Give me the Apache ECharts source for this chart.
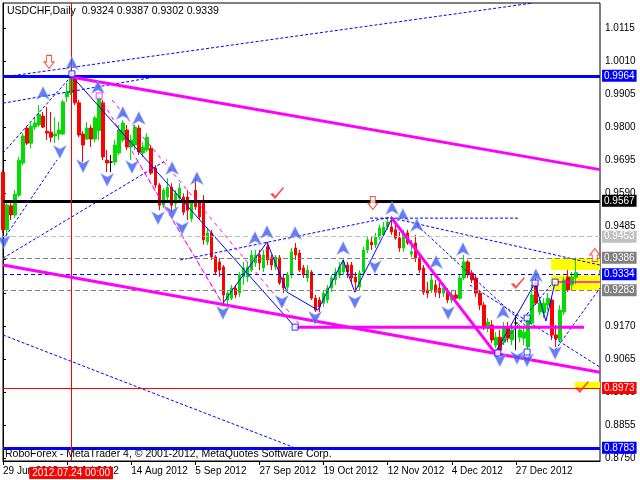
<!DOCTYPE html>
<html><head><meta charset="utf-8">
<script src="https://cdn.jsdelivr.net/npm/echarts@6/dist/echarts.min.js"></script>
<style>html,body{margin:0;padding:0;background:#fff}#c{width:640px;height:480px}</style>
</head><body><div id="c"></div>
<script>
// ---- data (USDCHF daily) ----
const opens = [0.9658,0.9475,0.9551,0.9522,0.9585,0.9687,0.9798,0.9750,0.9801,0.9808,
0.9836,0.9788,0.9785,0.9773,0.9779,0.9779,0.9897,0.9909,0.9957,0.9878,
0.9779,0.9763,0.9798,0.9763,0.9790,0.9878,0.9696,0.9690,0.9690,0.9719,
0.9760,0.9792,0.9738,0.9744,0.9798,0.9719,0.9728,0.9734,0.9671,0.9617,
0.9553,0.9579,0.9610,0.9559,0.9575,0.9579,0.9579,0.9510,0.9600,0.9564,
0.9569,0.9436,0.9465,0.9389,0.9373,0.9357,0.9252,0.9258,0.9290,0.9274,
0.9325,0.9325,0.9347,0.9370,0.9395,0.9354,0.9421,0.9386,0.9357,0.9386,
0.9322,0.9293,0.9332,0.9417,0.9401,0.9354,0.9322,0.9341,0.9258,0.9252,
0.9242,0.9252,0.9290,0.9316,0.9332,0.9341,0.9363,0.9363,0.9325,0.9293,
0.9341,0.9411,0.9436,0.9427,0.9452,0.9459,0.9484,0.9484,0.9475,0.9449,
0.9417,0.9465,0.9398,0.9433,0.9386,0.9354,0.9284,0.9284,0.9300,0.9290,
0.9274,0.9277,0.9252,0.9268,0.9258,0.9322,0.9373,0.9338,0.9322,0.9274,
0.9236,0.9163,0.9173,0.9109,0.9134,0.9118,0.9163,0.9125,0.9179,0.9134,
0.9131,0.9103,0.9179,0.9306,0.9214,0.9211,0.9236,0.9252,0.9141,0.9125,
0.9214,0.9325,0.9300,0.9324];
const closes = [0.9475,0.9554,0.9522,0.9588,0.9696,0.9773,0.9750,0.9804,0.9814,0.9842,
0.9801,0.9782,0.9769,0.9779,0.9792,0.9881,0.9912,0.9960,0.9878,0.9776,
0.9744,0.9798,0.9763,0.9830,0.9897,0.9706,0.9687,0.9690,0.9744,0.9792,
0.9814,0.9738,0.9760,0.9801,0.9722,0.9738,0.9769,0.9655,0.9617,0.9553,
0.9601,0.9610,0.9553,0.9591,0.9607,0.9531,0.9537,0.9564,0.9548,0.9516,
0.9443,0.9465,0.9389,0.9341,0.9347,0.9268,0.9274,0.9290,0.9268,0.9332,
0.9354,0.9357,0.9395,0.9395,0.9370,0.9395,0.9379,0.9363,0.9389,0.9306,
0.9290,0.9332,0.9405,0.9395,0.9347,0.9332,0.9347,0.9258,0.9220,0.9230,
0.9274,0.9290,0.9322,0.9341,0.9357,0.9373,0.9341,0.9322,0.9309,0.9338,
0.9411,0.9443,0.9427,0.9452,0.9481,0.9484,0.9500,0.9468,0.9449,0.9417,
0.9465,0.9433,0.9405,0.9386,0.9347,0.9277,0.9274,0.9316,0.9277,0.9274,
0.9290,0.9252,0.9268,0.9258,0.9322,0.9373,0.9332,0.9316,0.9274,0.9236,
0.9166,0.9182,0.9125,0.9134,0.9093,0.9166,0.9131,0.9157,0.9179,0.9157,
0.9150,0.9195,0.9268,0.9242,0.9242,0.9242,0.9258,0.9141,0.9131,0.9220,
0.9316,0.9284,0.9325,0.9339];
const lows = [0.9465,0.9459,0.9506,0.9513,0.9579,0.9680,0.9744,0.9734,0.9792,0.9801,
0.9798,0.9760,0.9753,0.9750,0.9760,0.9776,0.9881,0.9903,0.9871,0.9769,
0.9690,0.9760,0.9738,0.9753,0.9760,0.9696,0.9658,0.9658,0.9680,0.9712,
0.9753,0.9728,0.9696,0.9728,0.9712,0.9706,0.9722,0.9649,0.9607,0.9537,
0.9544,0.9569,0.9531,0.9544,0.9569,0.9521,0.9506,0.9500,0.9538,0.9506,
0.9428,0.9427,0.9379,0.9332,0.9325,0.9242,0.9236,0.9252,0.9258,0.9262,
0.9300,0.9309,0.9341,0.9357,0.9347,0.9341,0.9363,0.9347,0.9347,0.9300,
0.9274,0.9284,0.9322,0.9379,0.9341,0.9322,0.9309,0.9252,0.9214,0.9214,
0.9230,0.9242,0.9277,0.9300,0.9322,0.9332,0.9322,0.9309,0.9277,0.9284,
0.9332,0.9401,0.9411,0.9417,0.9443,0.9452,0.9475,0.9459,0.9443,0.9405,
0.9405,0.9427,0.9389,0.9373,0.9338,0.9268,0.9258,0.9274,0.9262,0.9258,
0.9262,0.9242,0.9242,0.9246,0.9252,0.9316,0.9322,0.9306,0.9262,0.9220,
0.9157,0.9150,0.9115,0.9099,0.9077,0.9109,0.9118,0.9109,0.9093,0.9118,
0.9109,0.9093,0.9173,0.9236,0.9204,0.9195,0.9220,0.9125,0.9103,0.9118,
0.9204,0.9277,0.9284,0.9302];
const highs = [0.9664,0.9560,0.9560,0.9601,0.9706,0.9782,0.9804,0.9814,0.9833,0.9871,
0.9849,0.9865,0.9849,0.9833,0.9817,0.9887,0.9941,0.9973,0.9963,0.9887,
0.9788,0.9817,0.9808,0.9836,0.9903,0.9887,0.9728,0.9712,0.9760,0.9808,
0.9823,0.9808,0.9776,0.9808,0.9808,0.9753,0.9782,0.9744,0.9680,0.9623,
0.9607,0.9639,0.9623,0.9601,0.9623,0.9591,0.9601,0.9569,0.9639,0.9569,
0.9585,0.9481,0.9475,0.9395,0.9386,0.9363,0.9284,0.9300,0.9300,0.9341,
0.9373,0.9373,0.9411,0.9411,0.9411,0.9411,0.9436,0.9395,0.9395,0.9395,
0.9332,0.9341,0.9417,0.9433,0.9411,0.9363,0.9363,0.9347,0.9268,0.9262,
0.9284,0.9300,0.9332,0.9354,0.9373,0.9386,0.9373,0.9373,0.9341,0.9347,
0.9421,0.9452,0.9452,0.9465,0.9491,0.9500,0.9513,0.9513,0.9491,0.9468,
0.9475,0.9475,0.9443,0.9459,0.9395,0.9363,0.9309,0.9332,0.9316,0.9306,
0.9306,0.9290,0.9284,0.9284,0.9332,0.9395,0.9379,0.9347,0.9332,0.9284,
0.9246,0.9195,0.9188,0.9150,0.9157,0.9182,0.9182,0.9173,0.9204,0.9173,
0.9163,0.9204,0.9300,0.9322,0.9258,0.9258,0.9274,0.9262,0.9173,0.9236,
0.9325,0.9347,0.9341,0.9387];

const slotCount = 150;
const tickIndex  = [0,16,32,48,64,80,96,112,128];
const tickLabels = ['29 Jun 2012','23 Jul 2012','14 Aug 2012','5 Sep 2012','27 Sep 2012','19 Oct 2012','12 Nov 2012','4 Dec 2012','27 Dec 2012'];
const yTicks = [0.8750,0.8855,0.8960,0.9065,0.9170,0.9275,0.9380,0.9485,0.9590,0.9695,0.9800,0.9905,1.0010,1.0115];
const levelValues = [0.9964,0.9567,0.9453,0.9386,0.9334,0.9283,0.8973,0.8783];
const markerBar = 17;
const markerBarLabel = '2012.07.24 00:00';

// annotation geometry (bar index, price)
const magentaThick = [
  [[17,0.9960],[149,0.9666]],
  [[0,0.9363],[149,0.9023]],
  [[97,0.9512],[122.8,0.9084]]
];
const magentaLevel = [[73,0.9166],[145,0.9166]];
const magentaThin = [[138,0.9309],[149,0.9309]];
const magentaDashed = [
  [[24,0.9900],[54.7,0.9242]],
  [[27.2,0.9887],[74.1,0.9173]],
  [[33.4,0.9697],[54.7,0.9242]]
];
const blueSolid = [
  [[17.2,0.9963],[72.9,0.9166]],
  [[54.9,0.9242],[65.9,0.9436],[70.9,0.9277],[78.6,0.9220],[84.9,0.9379],[87.8,0.9277],[97.1,0.9512]],
  [[122.8,0.9084],[132.8,0.9306],[135.5,0.9185],[137.8,0.9309]]
];
const blueDashed = [
  [[0,0.9960],[132.3,1.0195]],
  [[0,0.9877],[39.2,0.9963]],
  [[0,0.9719],[18,0.9976]],
  [[0,0.9385],[40.9,0.9697]],
  [[0,0.9442],[13.5,0.9697]],
  [[0,0.9141],[72.4,0.8785]],
  [[44.2,0.9379],[97.1,0.9516]],
  [[91.6,0.9512],[128.5,0.9512]],
  [[97.1,0.9512],[149,0.9363]],
  [[103.3,0.9490],[131.5,0.9157]],
  [[122.8,0.9084],[137.8,0.9316]],
  [[137.8,0.9093],[149,0.9290]],
  [[116.5,0.9300],[149,0.9039]]
];
const upArrows = [[10,0.9909],[17.2,1.0004],[23.7,0.9928],[29.9,0.9846],[33.9,0.9830],[42.2,0.9671],[48.4,0.9639],
  [62.9,0.9449],[65.9,0.9468],[72.9,0.9465],[84.9,0.9417],[97.1,0.9544],[99.8,0.9522],[103.3,0.9490],
  [108.1,0.9373],[114.8,0.9414],[124.8,0.9214],[133,0.9331]];
const downArrows = [[0.2,0.9436],[14.2,0.9722],[20,0.9677],[26,0.9633],[32.2,0.9674],[38.7,0.9512],[42.2,0.9528],
  [44.7,0.9480],[54.9,0.9211],[69.6,0.9246],[77.9,0.9195],[87.8,0.9246],[92.8,0.9357],[111.1,0.9211],
  [124,0.9061],[128.3,0.9068],[130.8,0.9061],[137.8,0.9084]];
const checkMarks = [[68.4,0.9592],[128.5,0.9306],[144.5,0.8976]];
const redDownArrows = [[11.5,1.0008],[92.3,0.9560]];
const redUpArrows = [[147.7,0.9395]];
const blueSquares = [[17.2,0.9970],[72.9,0.9166],[123.5,0.9084],[130.8,0.9087],[130.8,0.9195],[132.8,0.9306],[137.8,0.9309]];
const magentaSquares = [[24,0.9900]];
const yellowZones = [
  [[136.8,0.9385],[149,0.9347]],
  [[136.8,0.9331],[149,0.9284]],
  [[142.7,0.8992],[149,0.8969]]
];

// ---- build ----
const FONT = '"Liberation Sans", Arial, sans-serif';
const cats = Array.from({length: slotCount}, (_, i) => String(i));
const candleData = opens.map((o, i) => [o, closes[i], lows[i], highs[i]]);
const tickSet = new Set(tickIndex);
const labelOf = {}; tickIndex.forEach((t, k) => labelOf[t] = tickLabels[k]);

const levelStyles = [
  {c:'#0000ff', w:3, t:'solid'},
  {c:'#000000', w:3, t:'solid'},
  {c:'#c0c0c0', w:1, t:[5,3]},
  {c:'#808080', w:1, t:[5,3]},
  {c:'#0000ff', w:1, t:[4,3]},
  {c:'#808080', w:1, t:[5,3]},
  {c:'#ff0000', w:1, t:'solid'},
  {c:'#0000ff', w:3, t:'solid'}
];

function lineSeries(pts, color, width, type, z) {
  return {type:'line', xAxisIndex:1, yAxisIndex:0, data:pts, showSymbol:false, symbol:'none',
    silent:true, animation:false, z: z || 4,
    lineStyle:{color:color, width:width, type:type || 'solid'}};
}
function scatterSeries(pts, symbol, size, style, z) {
  return {type:'scatter', xAxisIndex:1, yAxisIndex:0, data:pts, symbol:symbol, symbolSize:size,
    silent:true, animation:false, z: z || 6, itemStyle:style};
}

const series = [];
series.push({type:'scatter', xAxisIndex:1, yAxisIndex:0, data:[], z:1, silent:true,
  markArea:{silent:true, itemStyle:{color:'#ffff00'},
    data: yellowZones.map(z => [{coord:z[0]}, {coord:z[1]}])}});
series.push({type:'candlestick', xAxisIndex:0, yAxisIndex:0, data:candleData, barWidth:3, z:3,
  itemStyle:{color:'#00dd00', color0:'#ff0000', borderColor:'#00dd00', borderColor0:'#ff0000',
    borderColorDoji:'#000000', borderWidth:1}});
blueDashed.forEach(p => series.push(lineSeries(p, '#0000ff', 1, [3,2])));
magentaDashed.forEach(p => series.push(lineSeries(p, '#ff00ff', 1, [4,4])));
blueSolid.forEach(p => series.push(lineSeries(p, '#0000ff', 1, 'solid')));
magentaThick.forEach(p => series.push(lineSeries(p, '#ff00ff', 3, 'solid', 5)));
series.push(lineSeries(magentaLevel, '#ff00ff', 3, 'solid', 5));
series.push(lineSeries(magentaThin, '#ff00ff', 1.5, 'solid', 5));
series.push({type:'scatter', xAxisIndex:1, yAxisIndex:0, data:[], z:7, silent:true, clip:false,
  markLine:{silent:true, symbol:['none','none'], animation:false, precision:4,
    data: levelValues.map((v, k) => ({yAxis:v,
      lineStyle:{color:levelStyles[k].c, width:levelStyles[k].w, type:levelStyles[k].t},
      label:{show:true, position:'end', distance:2, formatter: v.toFixed(4),
        backgroundColor:levelStyles[k].c, color:'#ffffff', fontSize:10, fontFamily:FONT,
        padding:[1,2,0,2], lineHeight:11}})).concat([
      {xAxis:markerBar, lineStyle:{color:'#ff0000', width:1, type:'solid'},
       label:{show:true, position:'start', distance:6, formatter:markerBarLabel,
        backgroundColor:'#ff0000', color:'#ffffff', fontSize:10, fontFamily:FONT, padding:[1,3,0,3], lineHeight:11}}
    ])}});
const upPath = 'path://M6,0 L12,11 L6,8 L0,11 Z';
const downPath = 'path://M0,0 L6,3 L12,0 L6,11 Z';
series.push(scatterSeries(upArrows, upPath, [13,13], {color:'#3f5ff0', borderColor:'#a8b8ff', borderWidth:0.6}));
series.push(scatterSeries(downArrows, downPath, [13,13], {color:'#3f5ff0', borderColor:'#a8b8ff', borderWidth:0.6}));
series.push(scatterSeries(checkMarks, 'path://M0,7 L3,6 L5,9 L13,0 L14,1 L5,12 Z', [14,12], {color:'#ff2020'}));
series.push(scatterSeries(redDownArrows, 'path://M3,0 L9,0 L9,7 L12,7 L6,14 L0,7 L3,7 Z', [10,13], {color:'#ffffff', borderColor:'#ff2000', borderWidth:1}));
series.push(scatterSeries(redUpArrows, 'path://M6,0 L12,7 L9,7 L9,14 L3,14 L3,7 L0,7 Z', [10,13], {color:'#ffffff', borderColor:'#ff2000', borderWidth:1}));
series.push(scatterSeries(blueSquares, 'rect', 6, {color:'#ffffff', borderColor:'#0000ff', borderWidth:1}));
series.push(scatterSeries(magentaSquares, 'rect', 6, {color:'#ffffff', borderColor:'#ff00ff', borderWidth:1}));

const chart = echarts.init(document.getElementById('c'), null, {renderer:'canvas'});
chart.setOption({
  animation:false,
  backgroundColor:'#ffffff',
  textStyle:{fontFamily:FONT},
  grid:{left:3, top:3, right:40, bottom:19, show:true, borderColor:'#000', borderWidth:1, backgroundColor:'#fff'},
  xAxis:[
    {type:'category', data:cats, boundaryGap:false,
     axisLine:{show:true, lineStyle:{color:'#000', width:1}},
     axisTick:{show:true, length:4, interval:(i) => tickSet.has(i), lineStyle:{color:'#000'}},
     axisLabel:{interval:(i) => tickSet.has(i), formatter:(v) => labelOf[Number(v)] || '',
       align:'left', fontSize:10, color:'#000', margin:5, fontFamily:FONT},
     splitLine:{show:false}},
    {type:'value', min:0, max:slotCount - 1, show:false}
  ],
  yAxis:[{type:'value', position:'right', min:0.8741, max:1.0195, scale:true,
    axisLine:{show:true, lineStyle:{color:'#000'}},
    axisTick:{show:true, length:3, customValues:yTicks, lineStyle:{color:'#000'}},
    axisLabel:{customValues:yTicks, formatter:(v) => v.toFixed(4), fontSize:10, color:'#000', margin:5, fontFamily:FONT},
    splitLine:{show:false}}],
  graphic:[
    {type:'text', left:7, top:6, z:100,
     style:{text:'USDCHF,Daily  ' + [opens[opens.length-1], highs[highs.length-1], lows[lows.length-1], closes[closes.length-1]].map(v => v.toFixed(4)).join(' '),
       font:'10.5px ' + FONT, fill:'#000'}},
    {type:'text', left:5, top:449, z:100,
     style:{text:'RoboForex - MetaTrader 4, \u00a9 2001-2012, MetaQuotes Software Corp.', font:'10.5px ' + FONT, fill:'#000'}}
  ],
  series: series
});
</script></body></html>
